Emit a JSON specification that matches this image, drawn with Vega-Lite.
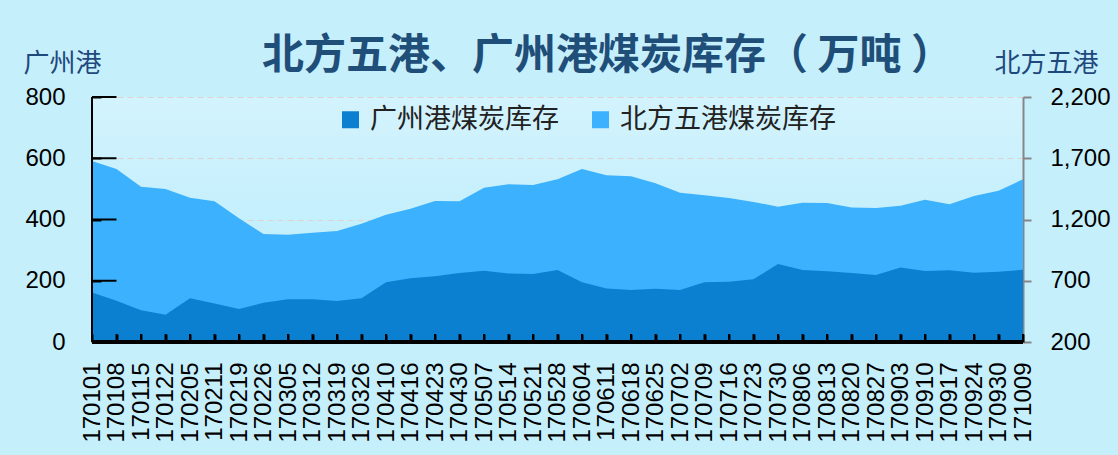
{
  "$schema": "https://vega.github.io/schema/vega-lite/v6.json",
  "width": 931,
  "height": 245,
  "autosize": {"type": "none"},
  "padding": {"left": 92, "top": 97, "right": 95, "bottom": 113},
  "background": "#c6effc",
  "config": {
    "view": {
      "stroke": null,
      "fill": {
        "gradient": "linear",
        "x1": 0, "y1": 0, "x2": 0, "y2": 1,
        "stops": [
          {"offset": 0, "color": "#d3f3fd"},
          {"offset": 1, "color": "#b6ecfc"}
        ]
      }
    },
    "font": "Noto Sans CJK SC"
  },
  "title": {
    "text": "北方五港、广州港煤炭库存（ 万吨 ）",
    "fontSize": 42,
    "fontWeight": "bold",
    "color": "#1f4e79",
    "font": "Noto Sans CJK SC",
    "anchor": "middle",
    "frame": "group",
    "dx": 50,
    "dy": 28,
    "offset": 0
  },
  "data": {
    "values": [
      {"date": "170101", "gz": 162, "bf": 1677},
      {"date": "170108", "gz": 135, "bf": 1612},
      {"date": "170115", "gz": 104, "bf": 1468},
      {"date": "170122", "gz": 89, "bf": 1449},
      {"date": "170205", "gz": 143, "bf": 1378},
      {"date": "170211", "gz": 126, "bf": 1348},
      {"date": "170219", "gz": 108, "bf": 1210},
      {"date": "170226", "gz": 128, "bf": 1082},
      {"date": "170305", "gz": 140, "bf": 1076},
      {"date": "170312", "gz": 140, "bf": 1092},
      {"date": "170319", "gz": 134, "bf": 1106},
      {"date": "170326", "gz": 143, "bf": 1166},
      {"date": "170410", "gz": 195, "bf": 1239},
      {"date": "170416", "gz": 208, "bf": 1288},
      {"date": "170423", "gz": 215, "bf": 1351},
      {"date": "170430", "gz": 225, "bf": 1348},
      {"date": "170507", "gz": 233, "bf": 1460},
      {"date": "170514", "gz": 224, "bf": 1487},
      {"date": "170521", "gz": 222, "bf": 1482},
      {"date": "170528", "gz": 235, "bf": 1528},
      {"date": "170604", "gz": 195, "bf": 1612},
      {"date": "170611", "gz": 175, "bf": 1561},
      {"date": "170618", "gz": 170, "bf": 1553},
      {"date": "170625", "gz": 174, "bf": 1495},
      {"date": "170702", "gz": 170, "bf": 1419},
      {"date": "170709", "gz": 195, "bf": 1397},
      {"date": "170716", "gz": 197, "bf": 1375},
      {"date": "170723", "gz": 205, "bf": 1343},
      {"date": "170730", "gz": 255, "bf": 1305},
      {"date": "170806", "gz": 235, "bf": 1337},
      {"date": "170813", "gz": 231, "bf": 1334},
      {"date": "170820", "gz": 225, "bf": 1297},
      {"date": "170827", "gz": 219, "bf": 1294},
      {"date": "170903", "gz": 243, "bf": 1313},
      {"date": "170910", "gz": 232, "bf": 1362},
      {"date": "170917", "gz": 234, "bf": 1324},
      {"date": "170924", "gz": 226, "bf": 1392},
      {"date": "170930", "gz": 229, "bf": 1435},
      {"date": "171009", "gz": 236, "bf": 1528}
    ]
  },
  "layer": [
    {
      "mark": {"type": "area", "opacity": 1},
      "encoding": {
        "x": {
          "field": "date",
          "type": "ordinal",
          "sort": null,
          "scale": {"type": "point", "padding": 0},
          "axis": {
            "title": null,
            "zindex": 1,
            "offset": -8,
            "domain": false,
            "ticks": true,
            "labelAngle": 270,
            "labelFont": "Liberation Sans",
            "labelFontSize": 24,
            "labelColor": "#000000",
            "labelPadding": 20,
            "tickColor": "#000000",
            "tickWidth": 2,
            "tickSize": 8,
            "grid": false
          }
        },
        "y": {
          "field": "bf",
          "type": "quantitative",
          "scale": {"domain": [200, 2200], "zero": false, "nice": false},
          "axis": {
            "orient": "right",
            "zindex": 0,
            "values": [200, 700, 1200, 1700, 2200],
            "format": ",.0f",
            "title": "北方五港",
            "titleAngle": 0,
            "titleFont": "Noto Sans CJK SC",
            "titleFontSize": 26,
            "titleFontWeight": "normal",
            "titleColor": "#1f497d",
            "titleAlign": "right",
            "titleBaseline": "middle",
            "titleX": 75,
            "titleY": -34,
            "labelFont": "Liberation Sans",
            "labelFontSize": 24,
            "labelColor": "#000000",
            "labelPadding": 19,
            "domainColor": "#868686",
            "domainWidth": 2,
            "tickColor": "#868686",
            "tickWidth": 2,
            "tickSize": 8,
            "grid": true,
            "gridColor": "#ddd3cf",
            "gridDash": [6, 4],
            "gridWidth": 1
          }
        },
        "y2": {"datum": 200},
        "color": {
          "datum": "北方五港煤炭库存",
          "scale": {
            "domain": ["广州港煤炭库存", "北方五港煤炭库存"],
            "range": ["#0b7fd0", "#3cb1fd"]
          },
          "legend": {
            "title": null,
            "orient": "none",
            "direction": "horizontal",
            "legendX": 245,
            "legendY": 9,
            "padding": 0,
            "symbolType": "square",
            "symbolSize": 289,
            "symbolStrokeWidth": 0,
            "labelFont": "Noto Sans CJK SC",
            "labelFontSize": 27,
            "labelColor": "#222222",
            "labelOffset": 6,
            "labelLimit": 400,
            "columnPadding": 28
          }
        }
      }
    },
    {
      "layer": [
        {
          "mark": {"type": "area", "opacity": 1},
          "encoding": {
            "x": {
              "field": "date",
              "type": "ordinal",
              "sort": null,
              "scale": {"type": "point", "padding": 0},
              "axis": {
                "title": null,
                "zindex": 1,
                "offset": -8,
                "domain": false,
                "ticks": true,
                "labelAngle": 270,
                "labelFont": "Liberation Sans",
                "labelFontSize": 24,
                "labelColor": "#000000",
                "labelPadding": 20,
                "tickColor": "#000000",
                "tickWidth": 2,
                "tickSize": 8,
                "grid": false
              }
            },
            "y": {
              "field": "gz",
              "type": "quantitative",
              "scale": {"domain": [0, 800], "nice": false},
              "axis": {
                "orient": "left",
                "zindex": 1,
                "offset": -9,
                "domain": false,
                "ticks": true,
                "values": [0, 200, 400, 600, 800],
                "title": "广州港",
                "titleAngle": 0,
                "titleFont": "Noto Sans CJK SC",
                "titleFontSize": 26,
                "titleFontWeight": "normal",
                "titleColor": "#1f497d",
                "titleAlign": "left",
                "titleBaseline": "middle",
                "titleX": -78,
                "titleY": -34,
                "labelFont": "Liberation Sans",
                "labelFontSize": 24,
                "labelColor": "#000000",
                "labelPadding": 27,
                "tickColor": "#000000",
                "tickWidth": 2,
                "tickSize": 9,
                "grid": false
              }
            },
            "color": {"datum": "广州港煤炭库存"}
          }
        },
        {
          "mark": {"type": "rule", "color": "#000000", "strokeWidth": 2},
          "encoding": {
            "x": {"field": "date", "type": "ordinal", "sort": null},
            "y": {"datum": 0, "type": "quantitative"},
            "y2": {"datum": 26}
          }
        },
        {
          "data": {"values": [{"v": 0}, {"v": 200}, {"v": 400}, {"v": 600}, {"v": 800}]},
          "mark": {"type": "rule", "color": "#000000", "strokeWidth": 2},
          "encoding": {
            "x": {"datum": "170101", "type": "ordinal"},
            "x2": {"datum": "170108"},
            "x2Offset": {"value": -15.5},
            "y": {"field": "v", "type": "quantitative"}
          }
        },
        {
          "mark": {"type": "rule", "color": "#000000", "strokeWidth": 3},
          "encoding": {
            "y": {"datum": 0, "type": "quantitative"}
          }
        },
        {
          "mark": {"type": "rule", "color": "#000000", "strokeWidth": 2},
          "encoding": {
            "x": {"datum": "170101", "type": "ordinal"}
          }
        }
      ]
    }
  ],
  "resolve": {"scale": {"y": "independent"}, "axis": {"y": "independent"}}
}
